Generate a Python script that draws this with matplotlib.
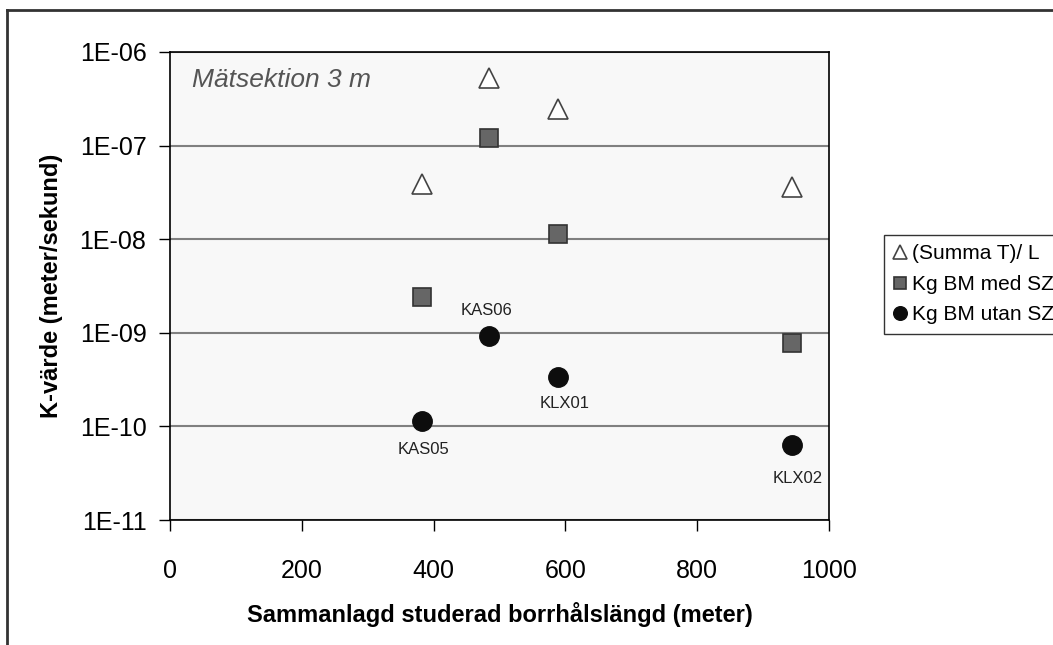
import matplotlib.pyplot as plt
from matplotlib.lines import Line2D

plt.rcParams['font.family'] = ['Liberation Sans', 'DejaVu Sans']

# borrhålslängd (m) per borrhål
langd = [382, 484, 589, 944]
borrhal = ['KAS05', 'KAS06', 'KLX01', 'KLX02']
summa_t_l = [3.9e-8, 5.3e-7, 2.46e-7, 3.65e-8]
kg_med_sz = [2.4e-9, 1.2e-7, 1.13e-8, 7.8e-10]
kg_utan_sz = [1.13e-10, 9.3e-10, 3.4e-10, 6.4e-11]

y_ticks = [1e-11, 1e-10, 1e-9, 1e-8, 1e-7, 1e-6]
y_ticklabels = ['1E-11', '1E-10', '1E-09', '1E-08', '1E-07', '1E-06']
x_ticks = [0, 200, 400, 600, 800, 1000]

# label offsets in points (dx, dy)
label_offsets = [(1, -20), (-2, 18), (5, -19), (4, -24.5)]

fig = plt.figure(figsize=(10.53, 6.45), dpi=100)
ax = fig.add_axes([170/1053, 1-520/645, (829-170)/1053, (520-52)/645])
ax.set_facecolor('#f8f8f8')

ax.plot(langd, summa_t_l, linestyle='none', marker='^', markersize=14,
        markerfacecolor='white', markeredgecolor='#444444', markeredgewidth=1.2,
        label='(Summa T)/ L', zorder=3)
ax.plot(langd, kg_med_sz, linestyle='none', marker='s', markersize=13,
        markerfacecolor='#666666', markeredgecolor='#333333', markeredgewidth=1.2,
        label='Kg BM med SZ', zorder=3)
ax.plot(langd, kg_utan_sz, linestyle='none', marker='o', markersize=14,
        markerfacecolor='#0d0d0d', markeredgecolor='#0d0d0d',
        label='Kg BM utan SZ', zorder=3)

for xi, yi, name, off in zip(langd, kg_utan_sz, borrhal, label_offsets):
    ax.annotate(name, (xi, yi), xytext=off, textcoords='offset points',
                ha='center', va='center', fontsize=12, color='#222222')

ax.set_yscale('log')
ax.set_ylim(1e-11, 1e-6)
ax.set_xlim(0, 1000)
ax.set_yticks(y_ticks)
ax.set_yticklabels(y_ticklabels)
ax.yaxis.set_minor_locator(plt.NullLocator())
ax.set_xticks(x_ticks)
ax.tick_params(axis='y', direction='out', length=8, width=1, pad=9, labelsize=18)
ax.tick_params(axis='x', direction='out', length=8, width=1, pad=20, labelsize=18)
ax.grid(axis='y', color='#808080', linewidth=1.5)
ax.set_axisbelow(True)
for sp in ax.spines.values():
    sp.set_color('black')
    sp.set_linewidth(1.2)

ax.set_xlabel('Sammanlagd studerad borrhålslängd (meter)', fontsize=17,
              fontweight='bold', labelpad=14)
ax.set_ylabel('K-värde (meter/sekund)', fontsize=17, fontweight='bold', labelpad=12)

ax.text(0.033, 0.94, 'Mätsektion 3 m', transform=ax.transAxes, fontsize=19,
        style='italic', color='#555555', va='center', ha='left')

leg = fig.legend(loc='upper left', bbox_to_anchor=(884/1053, 1-235/645),
                 fontsize=15, frameon=True, fancybox=False, markerscale=0.7,
                 handlelength=0.6, handletextpad=0.3, labelspacing=0.55,
                 borderpad=0.45, borderaxespad=0)
leg.get_frame().set_edgecolor('black')
leg.get_frame().set_linewidth(1.0)

# outer chart border (left and top visible)
fig.add_artist(Line2D([7/1053, 7/1053], [0, 1-10/645], color='#333333', linewidth=2))
fig.add_artist(Line2D([7/1053, 1], [1-10/645, 1-10/645], color='#333333', linewidth=2))

plt.savefig('out.png', dpi=100)
plt.close()
